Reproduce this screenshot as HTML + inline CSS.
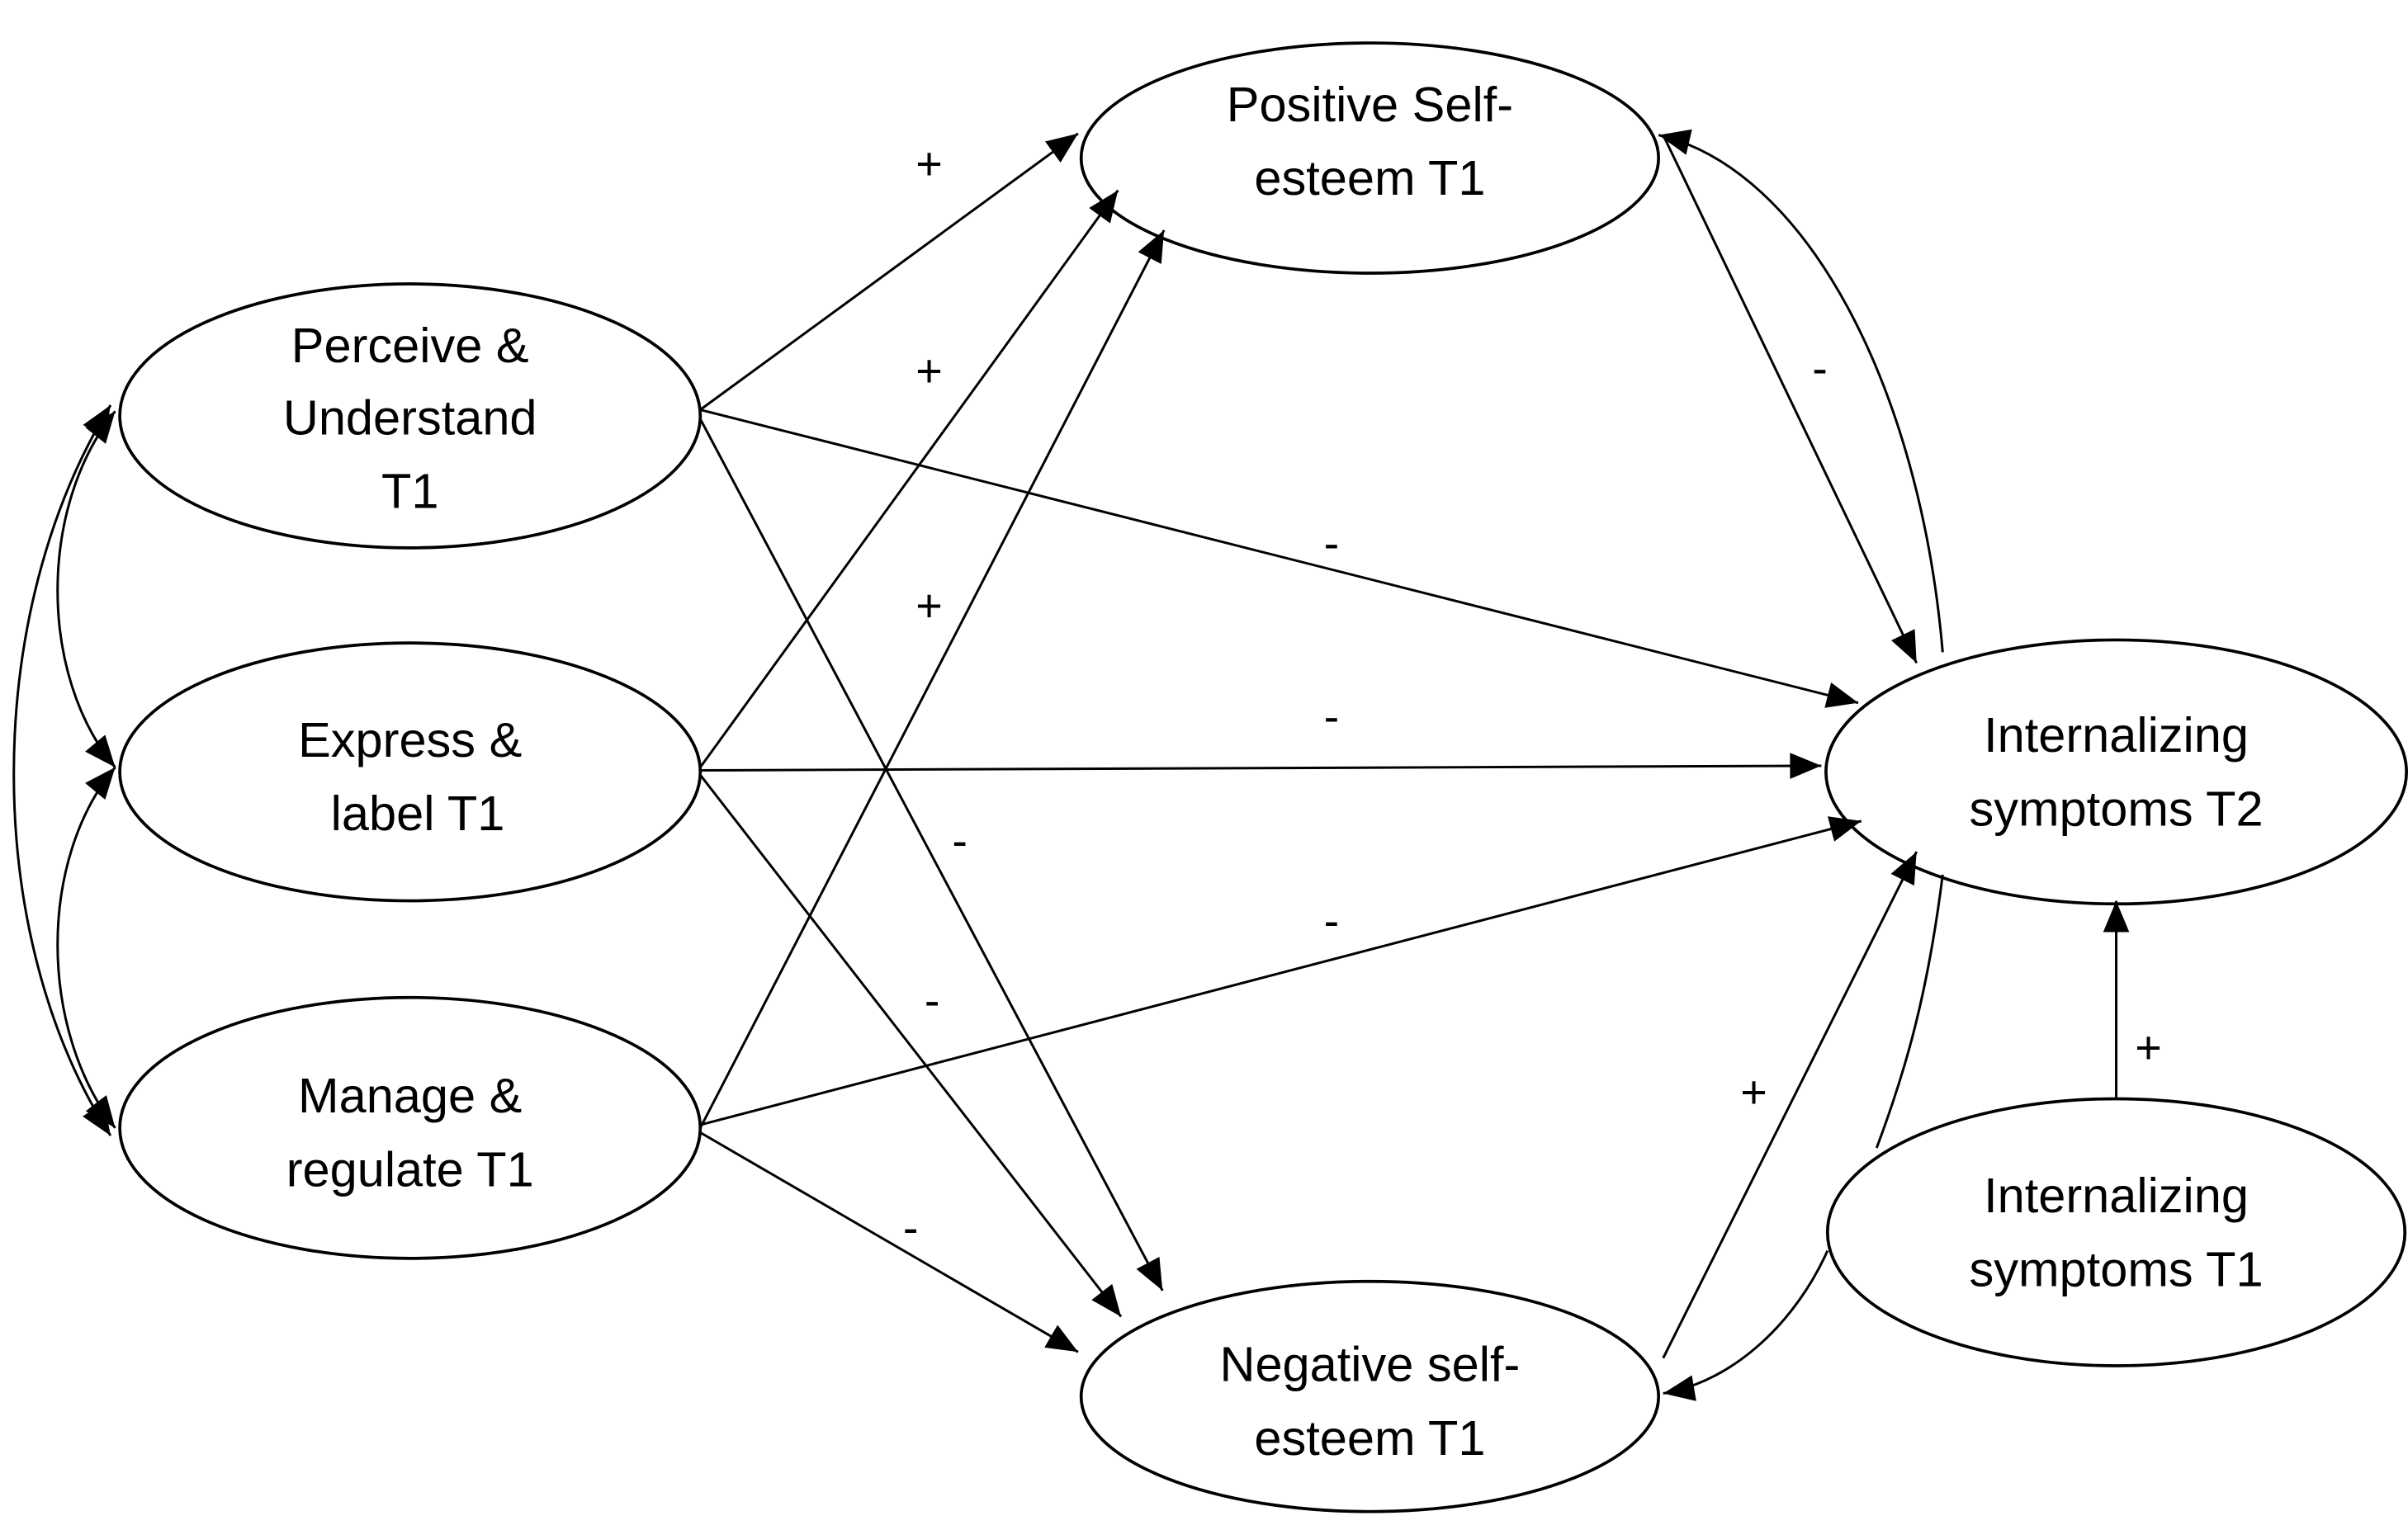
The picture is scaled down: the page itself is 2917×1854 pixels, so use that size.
<!DOCTYPE html>
<html><head><meta charset="utf-8"><style>html,body{margin:0;padding:0;background:#fff}svg{display:block}</style></head>
<body>
<svg width="2917" height="1854" viewBox="0 0 1568 997" preserveAspectRatio="none" xmlns="http://www.w3.org/2000/svg">
<defs>
<marker id="a" viewBox="0 0 12 10" refX="12" refY="5" markerWidth="12" markerHeight="10" markerUnits="userSpaceOnUse" orient="auto-start-reverse">
<path d="M0,0 L12,5 L0,10 z" fill="#000"/>
</marker>
<marker id="b" viewBox="0 0 12 10" refX="12" refY="5" markerWidth="22" markerHeight="17" markerUnits="userSpaceOnUse" orient="auto-start-reverse">
<path d="M0,0 L12,5 L0,10 z" fill="#000"/>
</marker>
</defs>
<g fill="none" stroke="#000" stroke-width="1.6">
<ellipse cx="892" cy="103" rx="188" ry="75" stroke-width="2"/>
<ellipse cx="267" cy="271" rx="189" ry="86" stroke-width="2"/>
<ellipse cx="267" cy="503" rx="189" ry="84" stroke-width="2"/>
<ellipse cx="267" cy="735" rx="189" ry="85" stroke-width="2"/>
<ellipse cx="1378" cy="503" rx="189" ry="86" stroke-width="2"/>
<ellipse cx="1378" cy="803" rx="188" ry="87" stroke-width="2"/>
<ellipse cx="892" cy="910" rx="188" ry="75" stroke-width="2"/>
<g marker-end="url(#b)">
<line x1="456" y1="267" x2="702" y2="87"/>
<line x1="456" y1="267" x2="1210" y2="458"/>
<line x1="456" y1="273" x2="757" y2="841"/>
<line x1="456" y1="500" x2="728" y2="124"/>
<line x1="456" y1="502" x2="1186" y2="499"/>
<line x1="456" y1="505" x2="730" y2="858"/>
<line x1="456" y1="735" x2="758" y2="150"/>
<line x1="456" y1="733" x2="1212" y2="535"/>
<line x1="456" y1="738" x2="702" y2="881"/>
<line x1="1083" y1="88" x2="1248" y2="432"/>
<line x1="1083" y1="885" x2="1248" y2="555"/>
<line x1="1378" y1="715" x2="1378" y2="587"/>
<path d="M1265,425 C1250,250 1175,110 1080,88"/>
<path d="M1190,815 C1170,860 1130,900 1083,908"/>
</g>
<path d="M1265,570 C1255,650 1240,700 1222,748"/>
<path d="M75,268 C25,330 25,440 75,500" marker-start="url(#b)" marker-end="url(#b)"/>
<path d="M75,500 C25,560 25,670 75,735" marker-start="url(#b)" marker-end="url(#b)"/>
<path d="M72,264 C-12,400 -12,610 72,740" marker-start="url(#b)" marker-end="url(#b)"/>
</g>
<g font-family="Liberation Sans, sans-serif" font-size="32" text-anchor="middle" fill="#000">
<text x="892" y="79">Positive Self-</text>
<text x="892" y="127">esteem T1</text>
<text x="267" y="236">Perceive &amp;</text>
<text x="267" y="283">Understand</text>
<text x="267" y="331">T1</text>
<text x="267" y="493">Express &amp;</text>
<text x="272" y="541">label T1</text>
<text x="267" y="725">Manage &amp;</text>
<text x="267" y="773">regulate T1</text>
<text x="1378" y="490">Internalizing</text>
<text x="1378" y="538">symptoms T2</text>
<text x="1378" y="790">Internalizing</text>
<text x="1378" y="838">symptoms T1</text>
<text x="892" y="900">Negative self-</text>
<text x="892" y="948">esteem T1</text>
<g font-size="30">
<text x="605" y="117">+</text>
<text x="605" y="252">+</text>
<text x="605" y="405">+</text>
<text x="867" y="364">-</text>
<text x="867" y="477">-</text>
<text x="867" y="610">-</text>
<text x="625" y="558">-</text>
<text x="607" y="662">-</text>
<text x="593" y="810">-</text>
<text x="1185" y="250">-</text>
<text x="1142" y="722">+</text>
<text x="1399" y="693">+</text>
</g>
</g>
</svg>
</body></html>
